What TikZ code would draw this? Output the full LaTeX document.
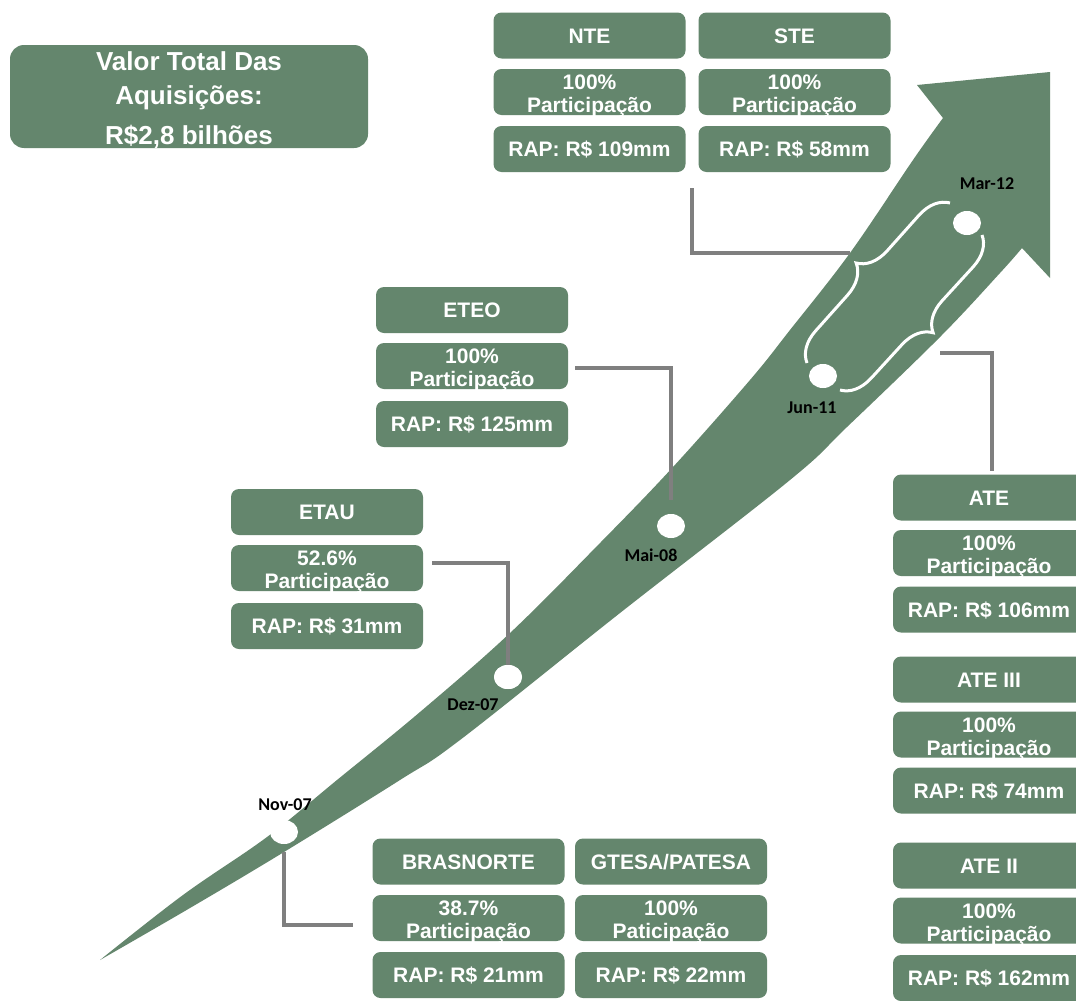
\documentclass[tikz,border=0pt]{standalone}
\usepackage{fontspec}
\setmainfont{Liberation Sans}
\newfontfamily\datefont{Carlito}
\usetikzlibrary{shapes.geometric,decorations.pathreplacing,calc}
\definecolor{ggreen}{RGB}{100,134,109}
\definecolor{lgrey}{RGB}{127,127,127}
\begin{document}
\begin{tikzpicture}[x=1pt,y=-1pt,
 gbox/.style={fill=ggreen, rounded corners=8pt, minimum width=192pt, minimum height=46pt, inner sep=0pt, text=white, font=\bfseries\fontsize{21}{23}\selectfont, text height=15pt, text depth=0pt},
 ptext/.style={text=white, font=\bfseries\fontsize{21}{23}\selectfont, align=center, inner sep=0pt, anchor=north},
 milestone/.style={ellipse, fill=white, minimum width=28pt, minimum height=24pt, inner sep=0pt},
 datelbl/.style={font=\datefont\bfseries\fontsize{18}{18}\selectfont, inner sep=0pt},
 conn/.style={draw=lgrey, line width=4pt},
 brc/.style={draw=white, line width=3pt, decorate, decoration={brace, amplitude=30pt}},
]
\useasboundingbox (0,0) rectangle (1076,1001);
\clip (0,0) rectangle (1076,1001);
\fill[white] (0,0) rectangle (1076,1001);

% growth arrow
\fill[ggreen] plot[smooth, tension=0.6] coordinates {(100,960) (183,895) (267,837) (337,780) (420,712) (510,633) (600,543) (673,467) (750,380) (790,330) (850,253) (913,160) (943,118)}
 -- (917,85) -- (1050,72) -- (1050,278) -- (1022,248)
 -- plot[smooth, tension=0.6] coordinates {(1022,248) (1000,273) (940,337) (847,427) (790,480) (620,613) (460,740) (400,780) (284,852) (190,908) (100,960)} -- cycle;

% title box
\node[gbox, minimum width=358pt, minimum height=103pt, rounded corners=14pt] (title) at (189,96.5) {};
\node[ptext, font=\bfseries\fontsize{26}{34}\selectfont] (titleTxt) at ($(title.north)+(0,7)$) {Valor Total Das\\Aquisições:\\[6pt]R\$2,8 bilhões};

% NTE / STE
\node[gbox] (nteH) at (589.5,35.5) {NTE};
\node[gbox] (nteP) at (589.5,92) {};
\node[ptext] (nteT) at ($(nteP.north)+(0,6.3)$) {100\%\\Participação};
\node[gbox] (nteR) at (589.5,149) {RAP: R\$ 109mm};
\node[gbox] (steH) at (794.5,35.5) {STE};
\node[gbox] (steP) at (794.5,92) {};
\node[ptext] (steT) at ($(steP.north)+(0,6.3)$) {100\%\\Participação};
\node[gbox] (steR) at (794.5,149) {RAP: R\$ 58mm};

% ETEO
\node[gbox] (eteoH) at (472,310) {ETEO};
\node[gbox] (eteoP) at (472,366) {};
\node[ptext] (eteoT) at ($(eteoP.north)+(0,6.3)$) {100\%\\Participação};
\node[gbox] (eteoR) at (472,424) {RAP: R\$ 125mm};

% ETAU
\node[gbox] (etauH) at (327,512) {ETAU};
\node[gbox] (etauP) at (327,568) {};
\node[ptext] (etauT) at ($(etauP.north)+(0,6.3)$) {52.6\%\\Participação};
\node[gbox] (etauR) at (327,626) {RAP: R\$ 31mm};

% BRASNORTE / GTESA
\node[gbox] (brasH) at (468.5,861.5) {BRASNORTE};
\node[gbox] (brasP) at (468.5,918) {};
\node[ptext] (brasT) at ($(brasP.north)+(0,6.3)$) {38.7\%\\Participação};
\node[gbox] (brasR) at (468.5,975) {RAP: R\$ 21mm};
\node[gbox] (gteH) at (671,861.5) {GTESA/PATESA};
\node[gbox] (gteP) at (671,918) {};
\node[ptext] (gteT) at ($(gteP.north)+(0,6.3)$) {100\%\\Paticipação};
\node[gbox] (gteR) at (671,975) {RAP: R\$ 22mm};

% ATE column
\node[gbox] (ateH) at (989,497.5) {ATE};
\node[gbox] (ateP) at (989,553) {};
\node[ptext] (ateT) at ($(ateP.north)+(0,6.3)$) {100\%\\Participação};
\node[gbox] (ateR) at (989,609.5) {RAP: R\$ 106mm};
\node[gbox] (ate3H) at (989,679.5) {ATE III};
\node[gbox] (ate3P) at (989,734.5) {};
\node[ptext] (ate3T) at ($(ate3P.north)+(0,6.3)$) {100\%\\Participação};
\node[gbox] (ate3R) at (989,790.5) {RAP: R\$ 74mm};
\node[gbox] (ate2H) at (989,865.5) {ATE II};
\node[gbox] (ate2P) at (989,920.5) {};
\node[ptext] (ate2T) at ($(ate2P.north)+(0,6.3)$) {100\%\\Participação};
\node[gbox] (ate2R) at (989,978) {RAP: R\$ 162mm};

% milestones
\node[milestone] (nov) at (284,832) {};
\node[milestone] (dez) at (508,677) {};
\node[milestone] (mai) at (671,526) {};
\node[milestone] (jun) at (823,376) {};
\node[milestone] (mar) at (967,223) {};

\coordinate (ntejoin) at (850,253);
\coordinate (atejoin) at (940,353);

% connectors
\draw[conn] ([yshift=-8pt]nov.south) |- ([xshift=-19pt,yshift=-7pt]brasP.west);
\draw[conn] ([xshift=9pt,yshift=5pt]etauP.east) -| (dez.north);
\draw[conn] ([xshift=7pt,yshift=-2pt]eteoP.east) -| ([yshift=14pt]mai.north);
\draw[conn] ($(nteR.south east)!0.5!(steR.south west)+(0,16)$) |- (ntejoin);
\draw[conn] (atejoin) -| ([xshift=3pt,yshift=3pt]ateH.north);

% keep the Dez-07 milestone above its connector
\fill[white] (dez.center) ellipse [x radius=14pt, y radius=12pt];

% braces
\coordinate (bA) at (807,363);
\coordinate (bB) at (950,203);
\coordinate (bC) at (982,235);
\coordinate (bD) at (840,390);
\draw[brc] (bA) -- (bB);
\draw[brc] (bC) -- (bD);

% date labels
\node[datelbl] (novL) at (285,805) {Nov-07};
\node[datelbl] (dezL) at (473,705) {Dez-07};
\node[datelbl] (maiL) at (651,555) {Mai-08};
\node[datelbl] (junL) at (812,408) {Jun-11};
\node[datelbl] (marL) at (987,184) {Mar-12};
\end{tikzpicture}
\end{document}
